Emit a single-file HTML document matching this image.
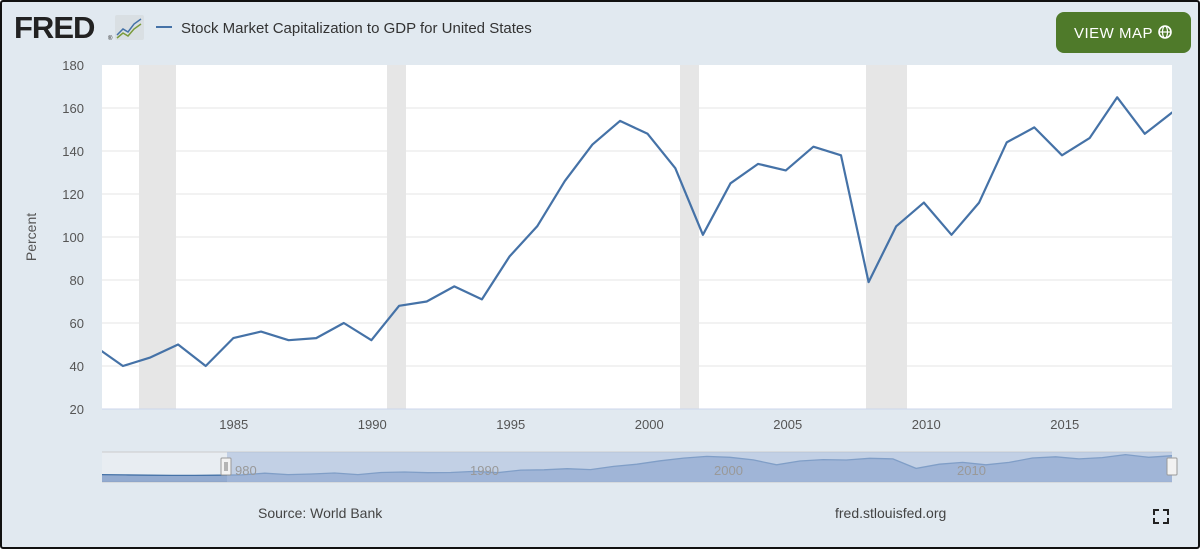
<!DOCTYPE html>
<html><head><meta charset="utf-8"><style>
html,body{margin:0;padding:0}
body{width:1200px;height:549px;overflow:hidden;font-family:"Liberation Sans",sans-serif}
#wrap{position:absolute;left:0;top:0;width:1196px;height:545px;border:2px solid #111;background:#e1e9f0;border-radius:3px}
</style></head><body>
<div id="wrap"></div>
<svg id="s" width="1200" height="549" style="position:absolute;left:0;top:0" xmlns="http://www.w3.org/2000/svg">
<text x="14" y="38" font-size="31" font-weight="bold" fill="#222" letter-spacing="-1">FRED</text>
<text x="108" y="40" font-size="6" fill="#222">®</text>
<rect x="115" y="15" width="29" height="25" rx="2" fill="#d9dfe3"/>
<polyline points="117,35 123,29 128,32 134,24 141,19" fill="none" stroke="#4572a7" stroke-width="1.5"/>
<polyline points="117,38 123,33 128,36 134,29 141,24" fill="none" stroke="#7a9a3a" stroke-width="1.5"/>
<line x1="156" y1="27" x2="172" y2="27" stroke="#4572a7" stroke-width="2"/>
<text x="181" y="33" font-size="15" fill="#333">Stock Market Capitalization to GDP for United States</text>
<rect x="1056" y="12" width="135" height="41" rx="8" fill="#4f7a2a"/>
<text x="1074" y="38" font-size="15" fill="#fff" letter-spacing="0.5">VIEW MAP</text>
<circle cx="1165" cy="32" r="6" fill="none" stroke="#fff" stroke-width="1.6"/>
<line x1="1159" y1="32" x2="1171" y2="32" stroke="#fff" stroke-width="1.2"/>
<ellipse cx="1165" cy="32" rx="2.5" ry="6" fill="none" stroke="#fff" stroke-width="1.2"/>
<rect x="102" y="65" width="1070" height="344" fill="#fff"/>
<g fill="#e6e6e6">
<rect x="139" y="65" width="37" height="344"/><rect x="387" y="65" width="19" height="344"/>
<rect x="680" y="65" width="19" height="344"/><rect x="866" y="65" width="41" height="344"/>
</g>
<g id="grid" stroke="#e6e6e6" stroke-width="1"></g>
<g id="yl" font-size="13" fill="#555" text-anchor="end"></g>
<g id="xl" font-size="13" fill="#555" text-anchor="middle"></g>
<text transform="translate(36,237) rotate(-90)" font-size="14" fill="#555" text-anchor="middle">Percent</text>
<line x1="102" y1="409" x2="1172" y2="409" stroke="#ccd6eb"/>
<clipPath id="c"><rect x="102" y="60" width="1070" height="360"/></clipPath>
<path id="main" clip-path="url(#c)" fill="none" stroke="#4572a7" stroke-width="2.2" stroke-linejoin="round"/>
<rect x="102" y="452" width="1070" height="30" fill="#e8edf2"/>
<line x1="102" y1="452" x2="1172" y2="452" stroke="#ccc"/>
<line x1="102" y1="482" x2="1172" y2="482" stroke="#ccc"/>
<path id="navf" fill="#6f8fc2" fill-opacity="0.7"/>
<path id="navl" fill="none" stroke="#4572a7" stroke-width="1.3"/>
<rect x="227" y="452" width="945" height="30" fill="#a9bcdc" fill-opacity="0.6"/>
<g font-size="13" fill="#999"><text x="235" y="475">980</text><text x="470" y="475">1990</text><text x="714" y="475">2000</text><text x="957" y="475">2010</text></g>
<rect x="221" y="458" width="10" height="17" rx="1" fill="#f2f2f2" stroke="#999"/>
<line x1="225" y1="462" x2="225" y2="471" stroke="#777"/><line x1="227" y1="462" x2="227" y2="471" stroke="#777"/>
<rect x="1167" y="458" width="10" height="17" rx="1" fill="#f2f2f2" stroke="#999"/>
<text x="258" y="518" font-size="14" fill="#444">Source: World Bank</text>
<text x="835" y="518" font-size="14" fill="#444">fred.stlouisfed.org</text>
<g stroke="#222" stroke-width="2" fill="none">
<polyline points="1154,515 1154,510 1159,510"/><polyline points="1163,510 1168,510 1168,515"/>
<polyline points="1154,518 1154,523 1159,523"/><polyline points="1163,523 1168,523 1168,518"/>
</g>
</svg>
<script>
var ns="http://www.w3.org/2000/svg";
function el(p,t,a,txt){var e=document.createElementNS(ns,t);for(var k in a)e.setAttribute(k,a[k]);if(txt)e.textContent=txt;document.getElementById(p).appendChild(e);}
for(var v=20;v<=180;v+=20){var y=409-(v-20)*2.15;if(v>20&&v<180)el("grid","line",{x1:102,x2:1172,y1:y,y2:y});el("yl","text",{x:84,y:y+5},String(v));}
for(var yr=1985;yr<=2015;yr+=5){var x=95.25+(yr-1980)*27.7;el("xl","text",{x:x,y:429},String(yr));}
var d=[49,40,44,50,40,53,56,52,53,60,52,68,70,77,71,91,105,126,143,154,148,132,101,125,134,131,142,138,79,105,116,101,116,144,151,138,146,165,148,158];
var p="";d.forEach(function(v,i){var x=95.25+i*27.62,y=409-(v-20)*2.15;p+=(i?"L":"M")+x.toFixed(1)+","+y.toFixed(1);});
document.getElementById("main").setAttribute("d",p);
var n="";var pre=[40,38,36,35,35,36,38];
var all=pre.concat(d);
all.forEach(function(v,i){var x=102+i*(1070/(all.length-1));var y=481-v*0.16;n+=(i?"L":"M")+x.toFixed(1)+","+y.toFixed(1);});
document.getElementById("navl").setAttribute("d",n);
document.getElementById("navf").setAttribute("d",n+"L1172,482L102,482Z");
</script>
</body></html>
